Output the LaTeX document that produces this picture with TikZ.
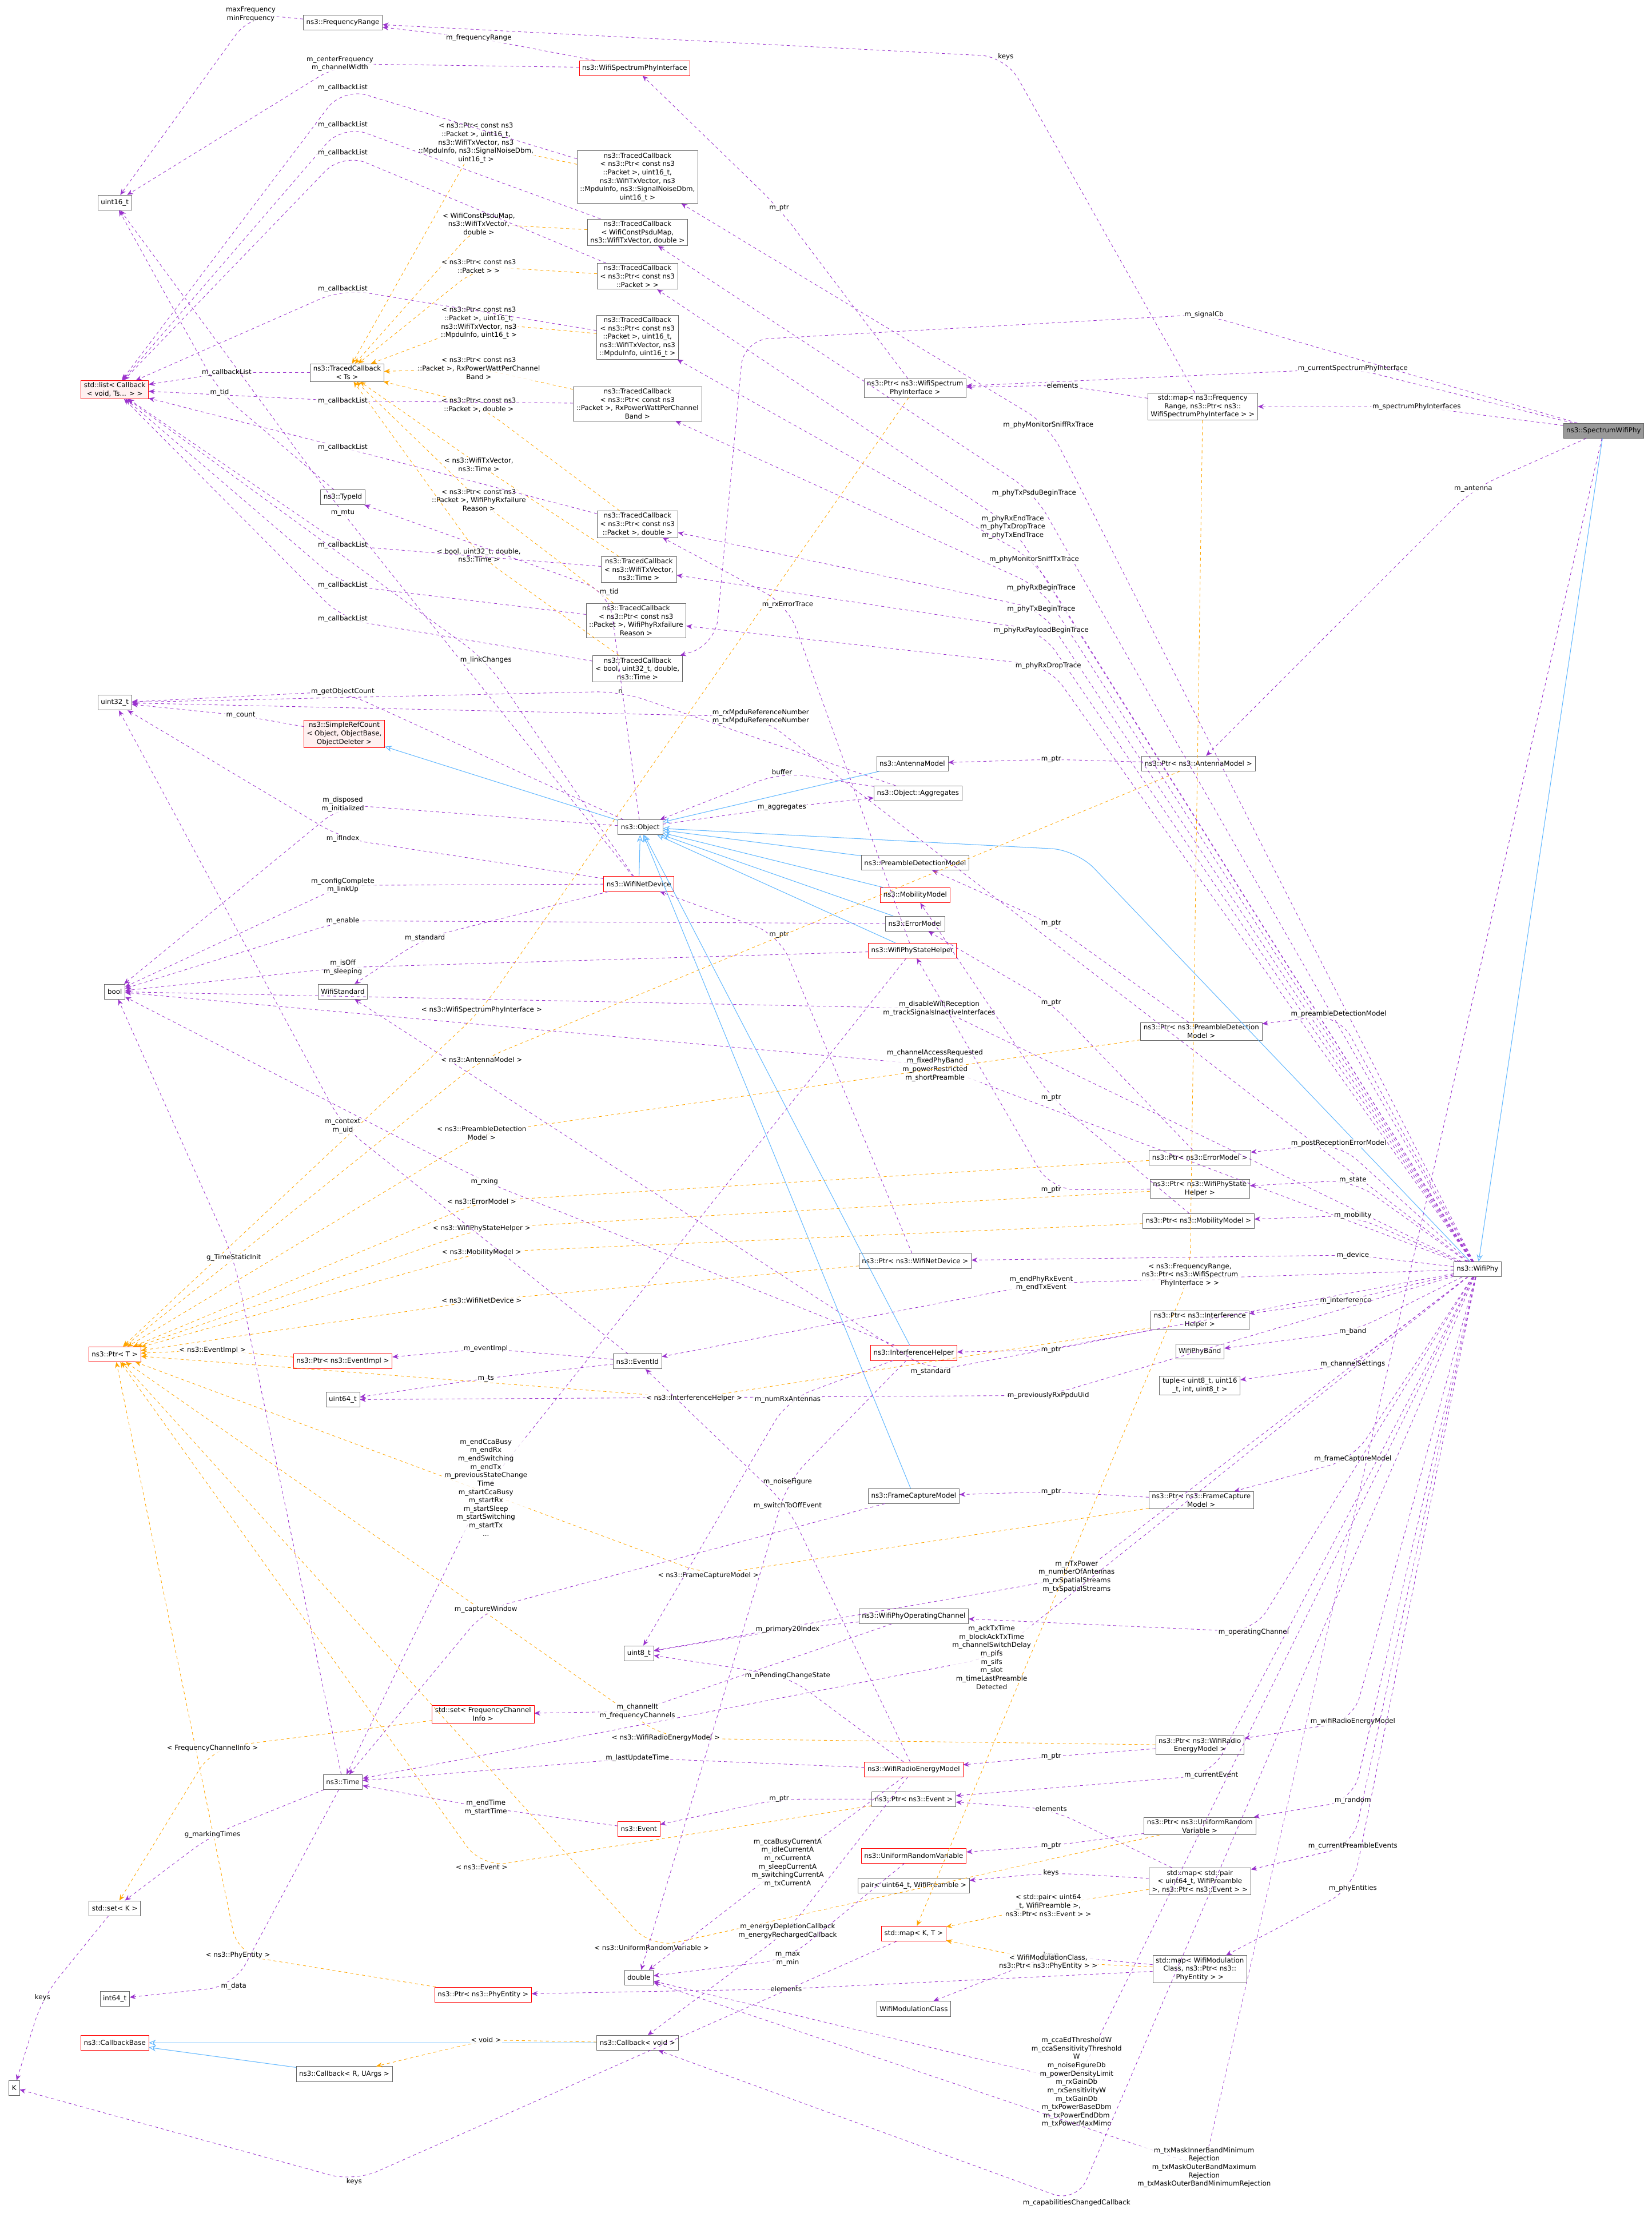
\documentclass[tikz,border=0pt]{standalone}
\usepackage{fontspec}
\setmainfont{DejaVu Sans}
\usetikzlibrary{arrows.meta}
\definecolor{pu}{HTML}{9A32CD}
\definecolor{og}{HTML}{FFA500}
\definecolor{bl}{HTML}{63B8FF}
\definecolor{bd}{HTML}{666666}
\definecolor{rf}{HTML}{FFF0F0}
\tikzset{
 nb/.style={draw=bd,fill=white,align=center,inner xsep=3pt,inner ysep=2pt,minimum height=15pt,font=\fontsize{6.8}{8.4}\selectfont},
 rb/.style={nb,draw=red},
 rbf/.style={nb,draw=red,fill=rf},
 use/.style={draw=pu,dashed,-{Stealth[length=6pt,width=5pt]},rounded corners=25pt,line width=0.5pt},
 tmpl/.style={draw=og},
 inh/.style={draw=bl,-{Stealth[length=7pt,width=6pt,open]},line width=0.6pt},
 lbl/.style={align=center,font=\fontsize{6.8}{8.4}\selectfont,fill=white,fill opacity=0.8,text opacity=1,inner sep=1pt,rounded corners=0pt}
}
\newcommand\E[5][]{\draw[use,#1] (#2) -- (#4) node[lbl]{#5} -- (#3);}
\begin{document}
\begin{tikzpicture}[x=0.05cm,y=-0.05cm]
\useasboundingbox (0,0) rectangle (1166,1565);
% nodes
\node[nb] (FR) at (242,16) {ns3::FrequencyRange};
\node[rb] (WSPI) at (448,48) {ns3::WifiSpectrumPhyInterface};
\node[nb] (u16) at (81,143) {uint16\_t};
\node[nb] (TC1) at (450,125) {ns3::TracedCallback\\< ns3::Ptr< const ns3\\::Packet >, uint16\_t,\\ns3::WifiTxVector, ns3\\::MpduInfo, ns3::SignalNoiseDbm,\\uint16\_t >};
\node[nb] (TC2) at (450,164) {ns3::TracedCallback\\< WifiConstPsduMap,\\ns3::WifiTxVector, double >};
\node[nb] (TC3) at (450,195) {ns3::TracedCallback\\< ns3::Ptr< const ns3\\::Packet > >};
\node[nb] (TC4) at (450,238) {ns3::TracedCallback\\< ns3::Ptr< const ns3\\::Packet >, uint16\_t,\\ns3::WifiTxVector, ns3\\::MpduInfo, uint16\_t >};
\node[nb] (TCT) at (245,263) {ns3::TracedCallback\\< Ts >};
\node[rbf] (LST) at (81,275) {std::list< Callback\\< void, Ts... > >};
\node[nb] (TC5) at (450,285) {ns3::TracedCallback\\< ns3::Ptr< const ns3\\::Packet >, RxPowerWattPerChannel\\Band >};
\node[nb] (TID) at (242,351) {ns3::TypeId};
\node[nb] (TC6) at (450,370) {ns3::TracedCallback\\< ns3::Ptr< const ns3\\::Packet >, double >};
\node[nb] (TC7) at (451,402) {ns3::TracedCallback\\< ns3::WifiTxVector,\\ns3::Time >};
\node[nb] (TC8) at (449,438) {ns3::TracedCallback\\< ns3::Ptr< const ns3\\::Packet >, WifiPhyRxfailure\\Reason >};
\node[nb] (TC9) at (450,472) {ns3::TracedCallback\\< bool, uint32\_t, double,\\ns3::Time >};
\node[nb] (u32) at (81,496) {uint32\_t};
\node[rbf] (SRC) at (243,518) {ns3::SimpleRefCount\\< Object, ObjectBase,\\ObjectDeleter >};
\node[nb] (OBJ) at (452,584) {ns3::Object};
\node[nb] (ANT) at (644,539) {ns3::AntennaModel};
\node[nb] (AGG) at (648,560) {ns3::Object::Aggregates};
\node[rb] (WND) at (451,624) {ns3::WifiNetDevice};
\node[nb] (PDM) at (646,609) {ns3::PreambleDetectionModel};
\node[rb] (MOB) at (646,632) {ns3::MobilityModel};
\node[nb] (ERR) at (646,652) {ns3::ErrorModel};
\node[rb] (PSH) at (644,671) {ns3::WifiPhyStateHelper};
\node[nb] (BOOL) at (81,700) {bool};
\node[nb] (WSTD) at (242,700) {WifiStandard};
\node[nb] (PANT) at (846,539) {ns3::Ptr< ns3::AntennaModel >};
\node[nb] (PPDM) at (848,728) {ns3::Ptr< ns3::PreambleDetection\\Model >};
\node[nb] (PERR) at (847,817) {ns3::Ptr< ns3::ErrorModel >};
\node[nb] (PPSH) at (847,839) {ns3::Ptr< ns3::WifiPhyState\\Helper >};
\node[nb] (PMOB) at (846,862) {ns3::Ptr< ns3::MobilityModel >};
\node[nb] (PWND) at (646,890) {ns3::Ptr< ns3::WifiNetDevice >};
\node[nb] (W) at (1043,896) {ns3::WifiPhy};
\node[nb,fill=black!40] (S) at (1132,304) {ns3::SpectrumWifiPhy};
\node[nb] (PSPI) at (646,274) {ns3::Ptr< ns3::WifiSpectrum\\PhyInterface >};
\node[nb] (MFR) at (849,287) {std::map< ns3::Frequency\\Range, ns3::Ptr< ns3::\\WifiSpectrumPhyInterface > >};
\node[rb] (PT) at (81,956) {ns3::Ptr< T >};
\node[rb] (PEI) at (242,961) {ns3::Ptr< ns3::EventImpl >};
\node[nb] (EID) at (450,961) {ns3::EventId};
\node[rb] (IH) at (645,955) {ns3::InterferenceHelper};
\node[nb] (PIH) at (847,932) {ns3::Ptr< ns3::Interference\\Helper >};
\node[nb] (BAND) at (847,954) {WifiPhyBand};
\node[nb] (TUP) at (847,978) {tuple< uint8\_t, uint16\\\_t, int, uint8\_t >};
\node[nb] (u64) at (242,988) {uint64\_t};
\node[nb] (FCM) at (645,1056) {ns3::FrameCaptureModel};
\node[nb] (PFCM) at (848,1059) {ns3::Ptr< ns3::FrameCapture\\Model >};
\node[nb] (WPOC) at (645,1141) {ns3::WifiPhyOperatingChannel};
\node[nb] (u8) at (451,1167) {uint8\_t};
\node[rb] (SFCI) at (341,1210) {std::set< FrequencyChannel\\Info >};
\node[nb] (PREM) at (847,1232) {ns3::Ptr< ns3::WifiRadio\\EnergyModel >};
\node[nb] (TIME) at (242,1258) {ns3::Time};
\node[rb] (REM) at (645,1249) {ns3::WifiRadioEnergyModel};
\node[nb] (PEV) at (645,1270) {ns3::Ptr< ns3::Event >};
\node[nb] (PURV) at (847,1289) {ns3::Ptr< ns3::UniformRandom\\Variable >};
\node[rb] (EV) at (451,1291) {ns3::Event};
\node[rb] (URV) at (645,1310) {ns3::UniformRandomVariable};
\node[nb] (MPE) at (847,1328) {std::map< std::pair\\< uint64\_t, WifiPreamble\\>, ns3::Ptr< ns3::Event > >};
\node[nb] (PAIR) at (645,1331) {pair< uint64\_t, WifiPreamble >};
\node[nb] (SETK) at (81,1347) {std::set< K >};
\node[rb] (MKT) at (645,1365) {std::map< K, T >};
\node[nb] (MWM) at (847,1390) {std::map< WifiModulation\\Class, ns3::Ptr< ns3::\\PhyEntity > >};
\node[nb] (DBL) at (451,1396) {double};
\node[rb] (PPE) at (341,1408) {ns3::Ptr< ns3::PhyEntity >};
\node[nb] (i64) at (81,1411) {int64\_t};
\node[nb] (WMC) at (645,1418) {WifiModulationClass};
\node[rb] (CBB) at (81,1442) {ns3::CallbackBase};
\node[nb] (CBV) at (450,1442) {ns3::Callback< void >};
\node[nb] (K) at (10,1474) {K};
\node[nb] (CBR) at (243,1464) {ns3::Callback< R, UArgs >};
% inheritance
\draw[inh] (S) -- (W);
\draw[inh,rounded corners=25pt] (W) -- (760,600) -- (OBJ);
\draw[inh] (OBJ) -- (SRC);
\foreach \n in {ANT,PDM,MOB,ERR,PSH,WND,IH,FCM} \draw[inh] (\n) -- (OBJ);
\draw[inh] (CBR) -- (CBB);
\draw[inh] (CBV) -- (CBB);
% SpectrumWifiPhy
\E{S}{PSPI}{955,260}{m\_currentSpectrumPhyInterface}
\E{S}{MFR}{1000,287}{m\_spectrumPhyInterfaces}
\E{S}{PANT}{1040,345}{m\_antenna}
\draw[use] (S) -- (850,222) node[lbl]{m\_signalCb} -- (525,240) -- (505,455) -- (TC9);
% WifiPhy members
\E{W}{TC1}{740,300}{m\_phyMonitorSniffRxTrace}
\E{W}{TC2}{730,348}{m\_phyTxPsduBeginTrace}
\E{W}{TC3}{715,372}{m\_phyRxEndTrace\\m\_phyTxDropTrace\\m\_phyTxEndTrace}
\E{W}{TC4}{730,395}{m\_phyMonitorSniffTxTrace}
\E{W}{TC5}{735,415}{m\_phyRxBeginTrace}
\E{W}{TC6}{735,430}{m\_phyTxBeginTrace}
\E{W}{TC7}{735,445}{m\_phyRxPayloadBeginTrace}
\E{W}{TC8}{740,470}{m\_phyRxDropTrace}
\E{W}{u32}{537,506}{m\_rxMpduReferenceNumber\\m\_txMpduReferenceNumber}
\E{W}{PPDM}{945,716}{m\_preambleDetectionModel}
\E{W}{BOOL}{663,712}{m\_disableWifiReception\\m\_trackSignalsInactiveInterfaces}
\E{W}{BOOL}{660,752}{m\_channelAccessRequested\\m\_fixedPhyBand\\m\_powerRestricted\\m\_shortPreamble}
\E{W}{PERR}{945,807}{m\_postReceptionErrorModel}
\E{W}{PPSH}{955,833}{m\_state}
\E{W}{PMOB}{955,858}{m\_mobility}
\E{W}{PWND}{955,886}{m\_device}
\E{W}{EID}{735,906}{m\_endPhyRxEvent\\m\_endTxEvent}
\E{W}{PIH}{950,918}{m\_interference}
\E{W}{BAND}{955,940}{m\_band}
\E{W}{TUP}{955,963}{m\_channelSettings}
\E{W}{WSTD}{657,968}{m\_standard}
\E{W}{u64}{740,985}{m\_previouslyRxPpduUid}
\E{W}{PFCM}{955,1030}{m\_frameCaptureModel}
\E{W}{u8}{760,1113}{m\_nTxPower\\m\_numberOfAntennas\\m\_rxSpatialStreams\\m\_txSpatialStreams}
\E{W}{WPOC}{885,1152}{m\_operatingChannel}
\E{W}{TIME}{700,1170}{m\_ackTxTime\\m\_blockAckTxTime\\m\_channelSwitchDelay\\m\_pifs\\m\_sifs\\m\_slot\\m\_timeLastPreamble\\Detected}
\E{W}{PREM}{955,1215}{m\_wifiRadioEnergyModel}
\E{W}{PEV}{855,1253}{m\_currentEvent}
\E{W}{PURV}{955,1271}{m\_random}
\E{W}{MPE}{955,1303}{m\_currentPreambleEvents}
\E{W}{MWM}{955,1333}{m\_phyEntities}
\E{W}{DBL}{760,1470}{m\_ccaEdThresholdW\\m\_ccaSensitivityThreshold\\W\\m\_noiseFigureDb\\m\_powerDensityLimit\\m\_rxGainDb\\m\_rxSensitivityW\\m\_txGainDb\\m\_txPowerBaseDbm\\m\_txPowerEndDbm\\m\_txPowerMaxMimo}
\E{S}{DBL}{850,1530}{m\_txMaskInnerBandMinimum\\Rejection\\m\_txMaskOuterBandMaximum\\Rejection\\m\_txMaskOuterBandMinimumRejection}
\E{W}{CBV}{760,1555}{m\_capabilitiesChangedCallback}
% Ptr members
\E{PSPI}{WSPI}{550,147}{m\_ptr}
\E{MFR}{PSPI}{750,272}{elements}
\E{MFR}{FR}{710,40}{keys}
\E{PANT}{ANT}{742,536}{m\_ptr}
\E{PPDM}{PDM}{742,652}{m\_ptr}
\E{PERR}{ERR}{742,708}{m\_ptr}
\E{PMOB}{MOB}{742,775}{m\_ptr}
\E{PPSH}{PSH}{742,840}{m\_ptr}
\E{PWND}{WND}{550,660}{m\_ptr}
\E{PIH}{IH}{742,953}{m\_ptr}
\E{PFCM}{FCM}{742,1053}{m\_ptr}
\E{PREM}{REM}{742,1240}{m\_ptr}
\E{PEV}{EV}{550,1270}{m\_ptr}
\E{PURV}{URV}{742,1303}{m\_ptr}
\E{MPE}{PEV}{742,1277}{elements}
\E{MPE}{PAIR}{742,1322}{keys}
\E{MWM}{PPE}{555,1404}{elements}
\E{MWM}{WMC}{742,1380}{keys}
% template instances -> Ptr<T>
\E[tmpl]{PSPI}{PT}{340,713}{< ns3::WifiSpectrumPhyInterface >}
\E[tmpl]{PANT}{PT}{340,748}{< ns3::AntennaModel >}
\E[tmpl]{PPDM}{PT}{340,800}{< ns3::PreambleDetection\\Model >}
\E[tmpl]{PERR}{PT}{340,848}{< ns3::ErrorModel >}
\E[tmpl]{PPSH}{PT}{340,867}{< ns3::WifiPhyStateHelper >}
\E[tmpl]{PMOB}{PT}{340,884}{< ns3::MobilityModel >}
\E[tmpl]{PWND}{PT}{340,918}{< ns3::WifiNetDevice >}
\E[tmpl]{PEI}{PT}{150,953}{< ns3::EventImpl >}
\E[tmpl]{PIH}{PT}{490,987}{< ns3::InterferenceHelper >}
\E[tmpl]{PFCM}{PT}{500,1112}{< ns3::FrameCaptureModel >}
\E[tmpl]{PREM}{PT}{470,1227}{< ns3::WifiRadioEnergyModel >}
\E[tmpl]{PEV}{PT}{340,1318}{< ns3::Event >}
\E[tmpl]{PURV}{PT}{460,1375}{< ns3::UniformRandomVariable >}
\E[tmpl]{PPE}{PT}{168,1380}{< ns3::PhyEntity >}
% template instances -> TracedCallback<Ts>
\E[tmpl]{TC1}{TCT}{336,101}{< ns3::Ptr< const ns3\\::Packet >, uint16\_t,\\ns3::WifiTxVector, ns3\\::MpduInfo, ns3::SignalNoiseDbm,\\uint16\_t >}
\E[tmpl]{TC2}{TCT}{338,158}{< WifiConstPsduMap,\\ns3::WifiTxVector,\\double >}
\E[tmpl]{TC3}{TCT}{338,188}{< ns3::Ptr< const ns3\\::Packet > >}
\E[tmpl]{TC4}{TCT}{338,228}{< ns3::Ptr< const ns3\\::Packet >, uint16\_t,\\ns3::WifiTxVector, ns3\\::MpduInfo, uint16\_t >}
\E[tmpl]{TC5}{TCT}{338,260}{< ns3::Ptr< const ns3\\::Packet >, RxPowerWattPerChannel\\Band >}
\E[tmpl]{TC6}{TCT}{338,286}{< ns3::Ptr< const ns3\\::Packet >, double >}
\E[tmpl]{TC7}{TCT}{338,328}{< ns3::WifiTxVector,\\ns3::Time >}
\E[tmpl]{TC8}{TCT}{338,353}{< ns3::Ptr< const ns3\\::Packet >, WifiPhyRxfailure\\Reason >}
\E[tmpl]{TC9}{TCT}{338,392}{< bool, uint32\_t, double,\\ns3::Time >}
% callback lists
\E{TC1}{LST}{242,62}{m\_callbackList}
\E{TC2}{LST}{242,88}{m\_callbackList}
\E{TC3}{LST}{242,108}{m\_callbackList}
\E{TC4}{LST}{242,204}{m\_callbackList}
\E{TCT}{LST}{160,263}{m\_callbackList}
\E{TC5}{LST}{242,283}{m\_callbackList}
\E{TC6}{LST}{242,316}{m\_callbackList}
\E{TC7}{LST}{242,385}{m\_callbackList}
\E{TC8}{LST}{242,413}{m\_callbackList}
\E{TC9}{LST}{242,437}{m\_callbackList}
% misc
\E{FR}{u16}{177,10}{maxFrequency\\minFrequency}
\E{WSPI}{u16}{240,45}{m\_centerFrequency\\m\_channelWidth}
\E{WSPI}{FR}{338,27}{m\_frequencyRange}
\E{TID}{u16}{155,277}{m\_tid}
\E{OBJ}{TID}{430,418}{m\_tid}
\E{WND}{u16}{242,362}{m\_mtu}
\E{WND}{LST}{343,466}{m\_linkChanges}
\E{OBJ}{u32}{242,488}{m\_getObjectCount}
\E{SRC}{u32}{170,505}{m\_count}
\E{AGG}{u32}{438,488}{n}
\E{AGG}{OBJ}{552,545}{buffer}
\E{OBJ}{AGG}{552,570}{m\_aggregates}
\E{OBJ}{BOOL}{242,568}{m\_disposed\\m\_initialized}
\E{WND}{u32}{242,592}{m\_ifIndex}
\E{WND}{BOOL}{242,625}{m\_configComplete\\m\_linkUp}
\E{ERR}{BOOL}{242,650}{m\_enable}
\E{WND}{WSTD}{300,662}{m\_standard}
\E{PSH}{BOOL}{242,683}{m\_isOff\\m\_sleeping}
\E{PSH}{TC6}{556,427}{m\_rxErrorTrace}
\E{IH}{BOOL}{342,834}{m\_rxing}
\E{EID}{u32}{242,795}{m\_context\\m\_uid}
\E{TIME}{BOOL}{165,888}{g\_TimeStaticInit}
\E{EID}{PEI}{343,952}{m\_eventImpl}
\E{EID}{u64}{343,973}{m\_ts}
\E{PSH}{TIME}{343,1050}{m\_endCcaBusy\\m\_endRx\\m\_endSwitching\\m\_endTx\\m\_previousStateChange\\Time\\m\_startCcaBusy\\m\_startRx\\m\_startSleep\\m\_startSwitching\\m\_startTx\\...}
\E{IH}{u8}{556,988}{m\_numRxAntennas}
\E{IH}{DBL}{556,1046}{m\_noiseFigure}
\E{REM}{EID}{556,1063}{m\_switchToOffEvent}
\E{FCM}{TIME}{343,1136}{m\_captureWindow}
\E{WPOC}{u8}{556,1150}{m\_primary20Index}
\E{WPOC}{SFCI}{450,1208}{m\_channelIt\\m\_frequencyChannels}
\E{REM}{u8}{556,1183}{m\_nPendingChangeState}
\E{REM}{TIME}{450,1241}{m\_lastUpdateTime}
\E{EV}{TIME}{343,1276}{m\_endTime\\m\_startTime}
\E{TIME}{SETK}{150,1295}{g\_markingTimes}
\E{REM}{DBL}{556,1315}{m\_ccaBusyCurrentA\\m\_idleCurrentA\\m\_rxCurrentA\\m\_sleepCurrentA\\m\_switchingCurrentA\\m\_txCurrentA}
\E{REM}{CBV}{556,1363}{m\_energyDepletionCallback\\m\_energyRechargedCallback}
\E{URV}{DBL}{556,1383}{m\_max\\m\_min}
\E[tmpl]{SFCI}{SETK}{150,1234}{< FrequencyChannelInfo >}
\E{TIME}{i64}{165,1402}{m\_data}
\E[tmpl]{CBV}{CBR}{343,1440}{< void >}
\E{SETK}{K}{30,1410}{keys}
\E{MKT}{K}{250,1540}{keys}
\draw[use,tmpl] (MFR) -- (840,900) node[lbl]{< ns3::FrequencyRange,\\ns3::Ptr< ns3::WifiSpectrum\\PhyInterface >  >} -- (MKT);
\E[tmpl]{MPE}{MKT}{740,1345}{< std::pair< uint64\\\_t, WifiPreamble >,\\ns3::Ptr< ns3::Event > >}
\E[tmpl]{MWM}{MKT}{740,1385}{< WifiModulationClass,\\ns3::Ptr< ns3::PhyEntity > >}
\end{tikzpicture}
\end{document}
